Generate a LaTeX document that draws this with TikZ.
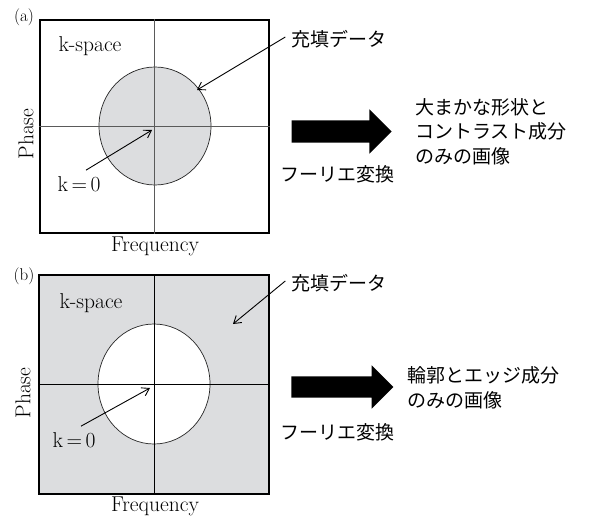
\documentclass[tikz,border=0pt]{standalone}
\usepackage{fontspec}
\newfontfamily\jp{Noto Sans CJK JP}
\usetikzlibrary{positioning,arrows.meta,calc,shapes.geometric,shapes.arrows}
\definecolor{fillgray}{HTML}{DCDDDF}
\definecolor{axisgray}{HTML}{5A5A5A}

\begin{document}
\begin{tikzpicture}[x=1pt,y=-1pt,
    kbox/.style={draw=black, line width=1.1pt, minimum width=229pt, minimum height=213pt, inner sep=0pt},
    disk/.style={ellipse, draw=black!85, line width=0.7pt, minimum width=112pt, minimum height=118pt, inner sep=0pt},
    axis/.style={draw=axisgray, line width=1.1pt},
    lat/.style={font=\fontsize{21.5}{25}\selectfont, inner sep=2pt},
    tag/.style={font=\fontsize{17}{20}\selectfont, inner sep=0pt},
    jtxt/.style={font=\jp\fontsize{19}{24.5}\selectfont, inner sep=2pt, align=left},
    ptr/.style={line width=0.9pt, -{Straight Barb[length=7pt,width=9pt]}},
    bigarrow/.style={single arrow, fill=black, minimum height=100pt, text height=22pt, text depth=0pt,
                     single arrow head extend=11pt, single arrow tip angle=90, inner sep=0pt}
  ]
  \useasboundingbox (0,0) rectangle (593,521);

  % panel (a): centre filled
  \node[tag] (taga) at (24,17) {(a)};
  \node[kbox, fill=white] (boxa) at (154.5,126.5) {};
  \node[disk, fill=fillgray] (diska) at (155,126) {};
  \draw[axis] (boxa.north) -- (boxa.south);
  \draw[axis] (boxa.west) -- (boxa.east);
  \node[lat] (spacea) at (90,46) {k-space};
  \node[lat, rotate=90] (phasea) at (26,134) {Phase};
  \node[lat] (freqa) at (155,246) {Frequency};
  \node[lat] (ka) at (79,184) {k\,=\,0};
  \coordinate (ktipa) at (152,130);
  \draw[ptr] ([shift={(7,-4)}]ka.north) -- (ktipa);
  \node[jtxt] (filla) at (339,39) {充填データ};
  \coordinate (filltipa) at (197,90);
  \draw[ptr] ([shift={(-4,-2)}]filla.west) -- (filltipa);
  \node[bigarrow] (fta) at (336,131.5) {};
  \node[jtxt] (fouriera) at (337,174) {フーリエ変換};
  \node[jtxt, anchor=west] (resa) at (413,131.5) {大まかな形状と\\コントラスト成分\\のみの画像};

  % panel (b): periphery filled
  \node[tag] (tagb) at (24,276) {(b)};
  \node[kbox, fill=fillgray, minimum width=230pt, minimum height=219pt] (boxb) at (154,384.5) {};
  \node[disk, fill=white, minimum height=120pt] (diskb) at (154,384) {};
  \draw[axis, draw=black, line width=0.8pt] (boxb.north) -- (boxb.south);
  \draw[axis, draw=black, line width=0.8pt] (boxb.west) -- (boxb.east);
  \node[lat] (spaceb) at (91,303) {k-space};
  \node[lat, rotate=90] (phaseb) at (23,393) {Phase};
  \node[lat] (freqb) at (155,506) {Frequency};
  \node[lat] (kb) at (74,440) {k\,=\,0};
  \coordinate (ktipb) at (150,388);
  \draw[ptr] ([shift={(7,-4)}]kb.north) -- (ktipb);
  \node[jtxt] (fillb) at (339,283) {充填データ};
  \coordinate (filltipb) at (233,324);
  \draw[ptr] ([shift={(-4,-2)}]fillb.west) -- (filltipb);
  \node[bigarrow, minimum height=102pt, text height=21pt] (ftb) at (337,387) {};
  \node[jtxt] (fourierb) at (337,432) {フーリエ変換};
  \node[jtxt, anchor=west] (resb) at (405,388) {輪郭とエッジ成分\\のみの画像};
\end{tikzpicture}
\end{document}
